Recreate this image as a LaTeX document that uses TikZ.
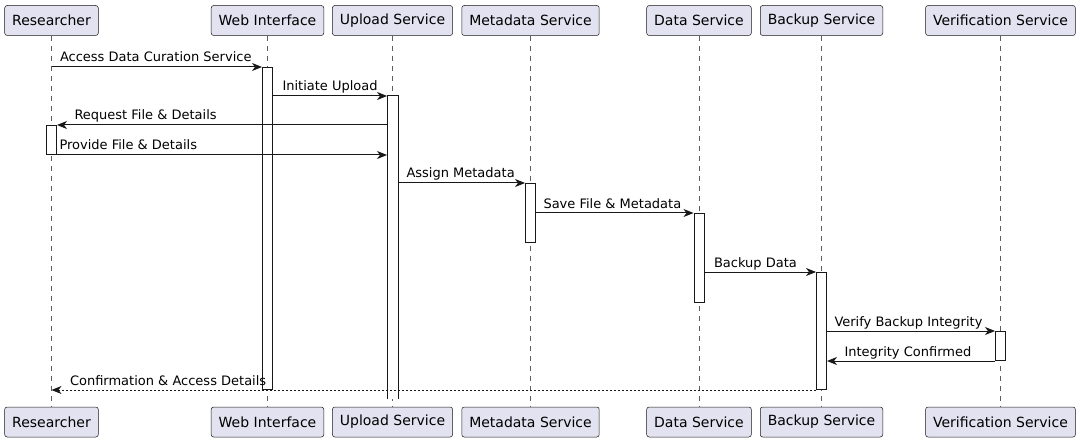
\documentclass[tikz,border=0pt]{standalone}
\usepackage{fontspec}
\setmainfont{DejaVu Sans}
\usetikzlibrary{arrows.meta}
\definecolor{partfill}{HTML}{E2E2F0}
\definecolor{partline}{HTML}{181818}
\begin{document}
\begin{tikzpicture}[x=1pt, y=-1pt, >={Stealth[length=10pt, width=8pt, inset=3pt]},
  part/.style={draw=partline, fill=partfill, rounded corners=2.5pt, line width=0.5pt,
               minimum height=30pt, inner xsep=7.5pt, font=\fontsize{14}{16}\selectfont},
  life/.style={draw=partline!70, line width=0.5pt, dash pattern=on 5pt off 5pt},
  bar/.style={draw=partline, fill=white, line width=1pt, minimum width=10pt,
              inner sep=0pt, anchor=north},
  msg/.style={->, draw=partline, line width=1pt},
  reply/.style={msg, dash pattern=on 2pt off 2pt},
  txt/.style={font=\fontsize{13}{15}\selectfont, anchor=base west, inner sep=0pt, yshift=5pt}]
  \useasboundingbox (0,0) rectangle (1080,441);
  % participants and lifelines
  \foreach \n/\x/\t in {R/51.5/Researcher, W/267.5/Web Interface, U/392.5/Upload Service,
                        M/530.5/Metadata Service, D/699/Data Service, B/821.5/Backup Service,
                        V/1000.5/Verification Service}
    { \node[part] (\n) at (\x,20.5) {\t}; \node[part] (\n2) at (\x,422) {\t};
      \draw[life] (\n) -- (\n2); }
  % activations
  \foreach \n/\p/\a/\b in {aW/W/67/389, aR/R/125/154, aM/M/183/242,
                           aD/D/213/302, aB/B/272/389, aV/V/331/360}
    \node[bar, minimum height={(\b-\a)*1pt}] (\n) at (\p |- 0,\a) {};
  % upload stays active past the end: open at the bottom
  \node[bar, draw=none, minimum height=302pt] (aU) at (U |- 0,96) {};
  \draw[partline, line width=1pt] (aU.south west) -- (aU.north west) -- (aU.north east) -- (aU.south east);
  % messages
  \draw[msg] (R |- aW.north) -- (aW.north west)
    node[txt, pos=0, xshift=8pt] {Access Data Curation Service};
  \draw[msg] (aW.east |- aU.north) -- (aU.north west)
    node[txt, pos=0, xshift=9pt] {Initiate Upload};
  \draw[msg] (aU.west |- aR.north) -- (aR.north east)
    node[txt, pos=1, xshift=17pt] {Request File \& Details};
  \draw[msg] (aR.south east) -- (aU.west |- aR.south)
    node[txt, pos=0, xshift=2pt] {Provide File \& Details};
  \draw[msg] (aU.east |- aM.north) -- (aM.north west)
    node[txt, pos=0, xshift=8pt] {Assign Metadata};
  \draw[msg] (aM.east |- aD.north) -- (aD.north west)
    node[txt, pos=0, xshift=7pt] {Save File \& Metadata};
  \draw[msg] (aD.east |- aB.north) -- (aB.north west)
    node[txt, pos=0, xshift=9pt] {Backup Data};
  \draw[msg] (aB.east |- aV.north) -- (aV.north west)
    node[txt, pos=0, xshift=7pt] {Verify Backup Integrity};
  \draw[msg] (aV.south west) -- (aB.east |- aV.south)
    node[txt, pos=1, xshift=17pt] {Integrity Confirmed};
  \draw[reply] (aB.south west) -- (R |- aB.south)
    node[txt, pos=1, xshift=18pt] {Confirmation \& Access Details};
\end{tikzpicture}
\end{document}
